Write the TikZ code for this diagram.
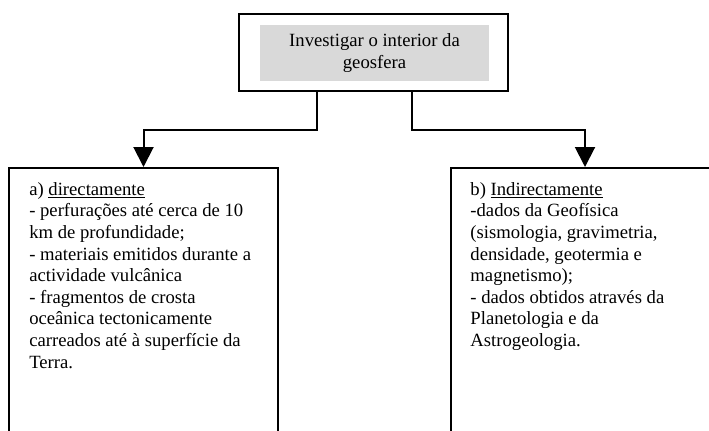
\documentclass[tikz,border=0pt]{standalone}
\usepackage{fontspec}
\setmainfont{Liberation Serif}
\usetikzlibrary{arrows.meta,positioning}
\definecolor{panelgray}{HTML}{D9D9D9}
\begin{document}
\begin{tikzpicture}[x=0.75pt,y=-0.75pt,
  frame/.style={draw,line width=1.5pt,inner sep=0pt},
  link/.style={line width=1.5pt,-{Triangle[width=15pt,length=15pt]}},
  notes/.style={inner sep=0pt,align=left,font=\fontsize{14}{16.2}\selectfont}]
  \useasboundingbox (0,0) rectangle (709,431);
  \clip (0,0) rectangle (709,431);
  % Goal
  \node[frame,minimum width=201.75pt,minimum height=57.75pt] (goal) at (373.5,52.5) {};
  \node[notes,fill=panelgray,minimum width=171.75pt,minimum height=42pt,align=center] (goaltext) at (374.5,53) {Investigar o interior da\\geosfera};
  % Directly
  \node[frame,anchor=north,minimum width=201.75pt,minimum height=240pt] (direct) at (143.5,167) {};
  \node[notes,below right=11.25pt and 15.75pt of direct.north west] (directtext) {a) \underline{directamente}\\
    - perfurações até cerca de 10\\
    km de profundidade;\\
    - materiais emitidos durante a\\
    actividade vulcânica\\
    - fragmentos de crosta\\
    oceânica tectonicamente\\
    carreados até à superfície da\\
    Terra.};
  % Indirectly
  \node[frame,anchor=north,minimum width=201.75pt,minimum height=240pt] (indirect) at (585,167) {};
  \node[notes,below right=11.25pt and 15.5pt of indirect.north west] (indirecttext) {b) \underline{Indirectamente}\\
    -dados da Geofísica\\
    (sismologia, gravimetria,\\
    densidade, geotermia e\\
    magnetismo);\\
    - dados obtidos através da\\
    Planetologia e da\\
    Astrogeologia.};
  % Connectors
  \draw[link] ([xshift=-42.4pt]goal.south) -- ++(0,38) -| (direct.north);
  \draw[link] ([xshift=28.9pt]goal.south) -- ++(0,38) -| (indirect.north);
\end{tikzpicture}
\end{document}
